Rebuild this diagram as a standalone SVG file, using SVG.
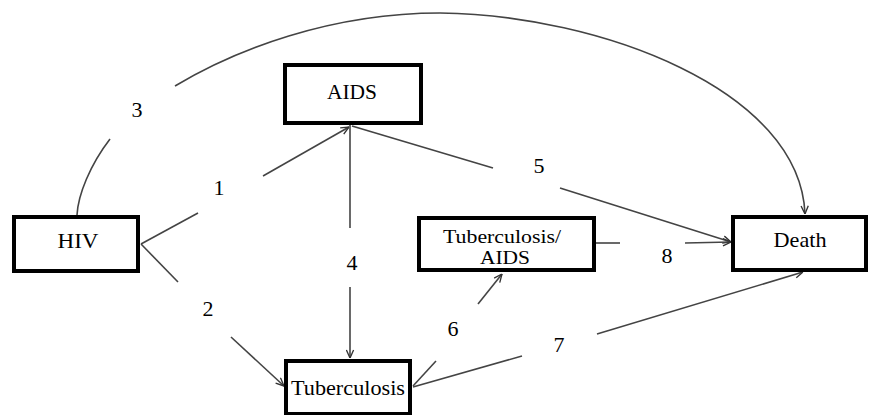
<svg xmlns="http://www.w3.org/2000/svg" width="870" height="415" viewBox="0 0 870 415">
<style>
.box{fill:#fff;stroke:#000;stroke-width:4}
.t{font-family:'Liberation Serif','DejaVu Serif',serif;font-size:22px;fill:#000;text-anchor:middle}
.s{font-family:'Liberation Serif','DejaVu Serif',serif;font-size:19.5px;fill:#000;text-anchor:middle}
.n{font-family:'Liberation Serif','DejaVu Serif',serif;font-size:22px;fill:#000;text-anchor:middle}
.c{fill:none;stroke:#444;stroke-width:1.6}
</style>
<defs>
<marker id="ah" viewBox="0 0 10 10" refX="10" refY="5" markerWidth="9" markerHeight="9" markerUnits="userSpaceOnUse" orient="auto">
<path d="M1,1 L10,5 L1,9" fill="none" stroke="#333" stroke-width="1.5"/>
</marker>
</defs>
<g id="connectors">
<path class="c" d="M141,244 L198,213"/>
<path class="c" d="M263,176 L349,127" marker-end="url(#ah)"/>
<path class="c" d="M141,244 L178,282"/>
<path class="c" d="M231,337 L284,386" marker-end="url(#ah)"/>
<path class="c" d="M77,215 C78,195 90,165 110,139"/>
<path class="c" d="M175,86 C235,50 330,13 440,13 C600,15 800,90 805,214" marker-end="url(#ah)"/>
<path class="c" d="M350,125 L350,228"/>
<path class="c" d="M350,287 L350,358" marker-end="url(#ah)"/>
<path class="c" d="M352,126 L493,168"/>
<path class="c" d="M560,188 L731,242" marker-end="url(#ah)"/>
<path class="c" d="M413,386 L436,361"/>
<path class="c" d="M478,304 L502,274" marker-end="url(#ah)"/>
<path class="c" d="M413,387 L522,356"/>
<path class="c" d="M597,334 L803,272" marker-end="url(#ah)"/>
<path class="c" d="M596,243 L620,243"/>
<path class="c" d="M685,243 L731,242" marker-end="url(#ah)"/>
<text class="n" x="137" y="117">3</text>
<text class="n" x="219" y="195">1</text>
<text class="n" x="208" y="316">2</text>
<text class="n" x="352" y="270">4</text>
<text class="n" x="539" y="173">5</text>
<text class="n" x="453" y="336">6</text>
<text class="n" x="559" y="352">7</text>
<text class="n" x="667" y="263">8</text>
</g>
<g id="hiv">
<rect class="box" x="14" y="217" width="124" height="54"/>
<text class="t" x="78" y="248" textLength="41" lengthAdjust="spacingAndGlyphs">HIV</text>
</g>
<g id="aids">
<rect class="box" x="285" y="65" width="136" height="58"/>
<text class="t" x="352" y="99" textLength="50" lengthAdjust="spacingAndGlyphs">AIDS</text>
</g>
<g id="tbaids">
<rect class="box" x="419" y="218" width="175" height="52"/>
<text class="s" x="502" y="243" textLength="118" lengthAdjust="spacingAndGlyphs">Tuberculosis/</text>
<text class="s" x="505" y="264" textLength="50" lengthAdjust="spacingAndGlyphs">AIDS</text>
</g>
<g id="death">
<rect class="box" x="733" y="217" width="133" height="53"/>
<text class="t" x="800" y="247" textLength="53" lengthAdjust="spacingAndGlyphs">Death</text>
</g>
<g id="tuberculosis">
<rect class="box" x="286" y="361" width="124" height="53"/>
<text class="t" x="348" y="395" textLength="114" lengthAdjust="spacingAndGlyphs">Tuberculosis</text>
</g>
</svg>
